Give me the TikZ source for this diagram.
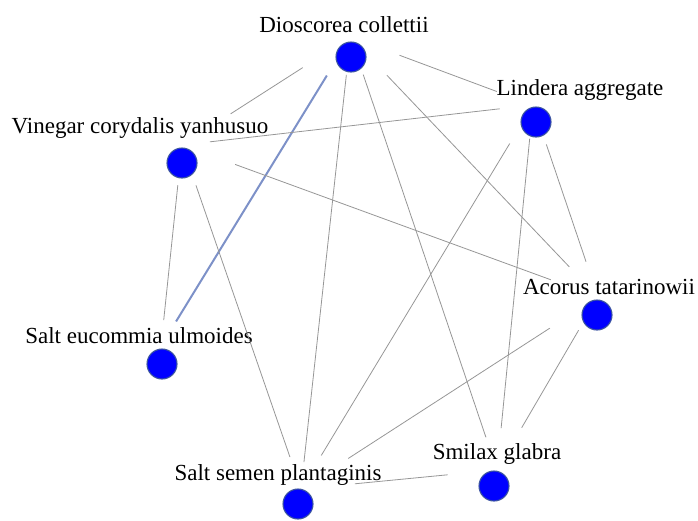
\documentclass[tikz,border=0pt]{standalone}
\usepackage{fontspec}
\setmainfont{Liberation Serif}
\begin{document}
\begin{tikzpicture}[x=1pt,y=-1pt,
  herb/.style={circle,fill={rgb,255:red,0;green,0;blue,255},draw={rgb,255:red,60;green,85;blue,160},line width=1.1pt,minimum size=30pt,inner sep=0pt},
  herblabel/.style={anchor=base,inner sep=0pt,font=\fontsize{23}{26}\selectfont},
  link/.style={draw={rgb,255:red,150;green,150;blue,150},line width=0.8pt},
  strong/.style={draw={rgb,255:red,125;green,145;blue,200},line width=2pt}]
\useasboundingbox (0,0) rectangle (698,520);
\clip (0,0) rectangle (698,520);
% circles
\node[herb] (cD) at (351,57) {};
\node[herb] (cL) at (536,122) {};
\node[herb] (cV) at (182,163) {};
\node[herb] (cE) at (162,364) {};
\node[herb] (cA) at (597,315) {};
\node[herb] (cS) at (494,486) {};
\node[herb] (cP) at (298,504) {};
% labels
\node[herblabel] (tD) at (344,32) {Dioscorea collettii};
\node[herblabel] (tL) at (580,95) {Lindera aggregate};
\node[herblabel] (tV) at (140,133) {Vinegar corydalis yanhusuo};
\node[herblabel] (tE) at (139,343) {Salt eucommia ulmoides};
\node[herblabel] (tA) at (609,294) {Acorus tatarinowii};
\node[herblabel] (tS) at (497,459) {Smilax glabra};
\node[herblabel] (tP) at (278,480) {Salt semen plantaginis};
% edge hubs
\coordinate (D) at (350.5,37);
\coordinate (L) at (533,105);
\coordinate (V) at (182,145);
\coordinate (E) at (161,346);
\coordinate (A) at (598,297);
\coordinate (S) at (497,470);
\coordinate (P) at (301,489);
% edges
\draw[link,shorten <=56.7pt,shorten >=57.7pt] (D) -- (V);
\draw[strong,shorten <=45.2pt,shorten >=28.8pt] (D) -- (E);
\draw[link,shorten <=38.1pt,shorten >=27.1pt] (D) -- (P);
\draw[link,shorten <=39.7pt,shorten >=34.5pt] (D) -- (S);
\draw[link,shorten <=52.7pt,shorten >=41.7pt] (D) -- (A);
\draw[link,shorten <=52.3pt,shorten >=38.6pt] (D) -- (L);
\draw[link,shorten <=33.5pt,shorten >=28.1pt] (L) -- (V);
\draw[link,shorten <=45pt,shorten >=39.2pt] (L) -- (P);
\draw[link,shorten <=33.7pt,shorten >=42.1pt] (L) -- (S);
\draw[link,shorten <=41.6pt,shorten >=37.3pt] (L) -- (A);
\draw[link,shorten <=56.6pt,shorten >=50.2pt] (V) -- (A);
\draw[link,shorten <=40.4pt,shorten >=26pt] (V) -- (E);
\draw[link,shorten <=42.7pt,shorten >=33.8pt] (V) -- (P);
\draw[link,shorten <=57.4pt,shorten >=56.3pt] (A) -- (P);
\draw[link,shorten <=38.5pt,shorten >=48.9pt] (A) -- (S);
\draw[link,shorten <=54.1pt,shorten >=49.6pt] (P) -- (S);
\end{tikzpicture}
\end{document}
